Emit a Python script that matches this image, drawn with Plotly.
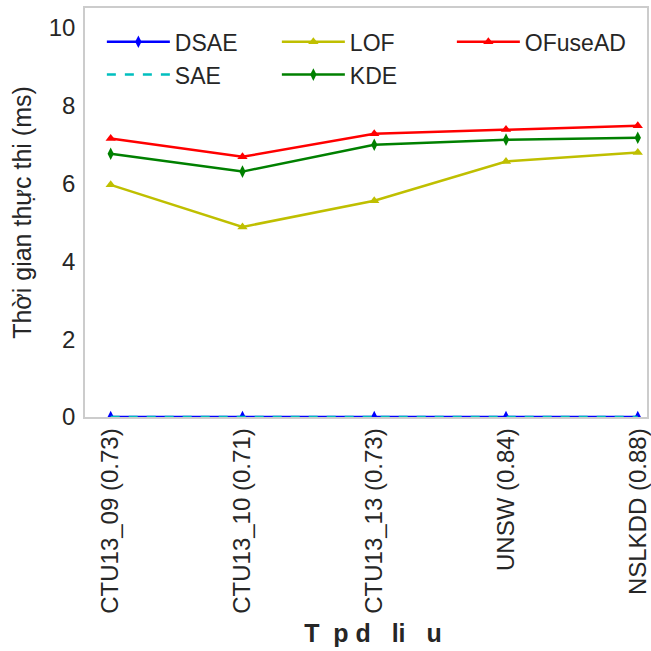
import plotly.graph_objects as go

categories = ["CTU13_09 (0.73)", "CTU13_10 (0.71)", "CTU13_13 (0.73)", "UNSW (0.84)", "NSLKDD (0.88)"]
dsae = [0.0, 0.0, 0.0, 0.0, 0.0]
sae = [0.0, 0.0, 0.0, 0.0, 0.0]
lof = [5.96, 4.88, 5.55, 6.56, 6.79]
kde = [6.76, 6.30, 6.99, 7.12, 7.17]
ofusead = [7.15, 6.68, 7.27, 7.38, 7.48]

xi = list(range(len(categories)))
FONT = "Liberation Sans, Arial, sans-serif"

fig = go.Figure()
fig.add_trace(go.Scatter(x=xi, y=dsae, name="DSAE", mode="lines+markers",
                         line=dict(color="#0000ff", width=2.5),
                         marker=dict(symbol="diamond-tall", size=9, color="#0000ff")))
fig.add_trace(go.Scatter(x=xi, y=lof, name="LOF", mode="lines+markers",
                         line=dict(color="#bfbf00", width=2.5),
                         marker=dict(symbol="triangle-up", size=9, color="#bfbf00")))
fig.add_trace(go.Scatter(x=xi, y=ofusead, name="OFuseAD", mode="lines+markers",
                         line=dict(color="#ff0000", width=2.5),
                         marker=dict(symbol="triangle-up", size=9, color="#ff0000")))
fig.add_trace(go.Scatter(x=xi, y=sae, name="SAE", mode="lines",
                         line=dict(color="#00bfbf", width=2.5, dash="dash")))
fig.add_trace(go.Scatter(x=xi, y=kde, name="KDE", mode="lines+markers",
                         line=dict(color="#008000", width=2.5),
                         marker=dict(symbol="diamond-tall", size=9, color="#008000")))

fig.update_layout(
    width=651, height=651,
    margin=dict(l=85, r=0, t=8, b=234),
    paper_bgcolor="white", plot_bgcolor="white",
    font=dict(family=FONT, color="#262626", size=24),
    showlegend=True,
    legend=dict(orientation="h", x=0.03, y=0.97, xanchor="left", yanchor="top",
                entrywidth=97, entrywidthmode="pixels", itemwidth=63,
                font=dict(size=23, family=FONT, color="#262626"),
                bgcolor="rgba(255,255,255,0)", tracegroupgap=0),
    xaxis=dict(range=[-0.195, 4.07], tickmode="array", tickvals=xi, ticktext=categories,
               tickangle=-90, tickfont=dict(size=24, family=FONT, color="#262626"),
               ticklabeloverflow="allow",
               showgrid=False, zeroline=False, showline=True, linecolor="#cccccc",
               linewidth=1.5, mirror=True, ticks="",
               title=dict(text="<b>\u00a0\u00a0T  p d   li   u</b>", font=dict(size=25, family=FONT, color="#262626"),
                          standoff=12)),
    yaxis=dict(range=[0, 10.5], tickvals=[0, 2, 4, 6, 8, 10],
               tickfont=dict(size=24, family=FONT, color="#262626"),
               ticklabelstandoff=3,
               showgrid=False, zeroline=False, showline=True, linecolor="#cccccc",
               linewidth=1.5, mirror=True, ticks="",
               title=dict(text="Thời gian thực thi (ms)", font=dict(size=25, family=FONT, color="#262626"),
                          standoff=10)),
)

fig.write_html("out.html")
